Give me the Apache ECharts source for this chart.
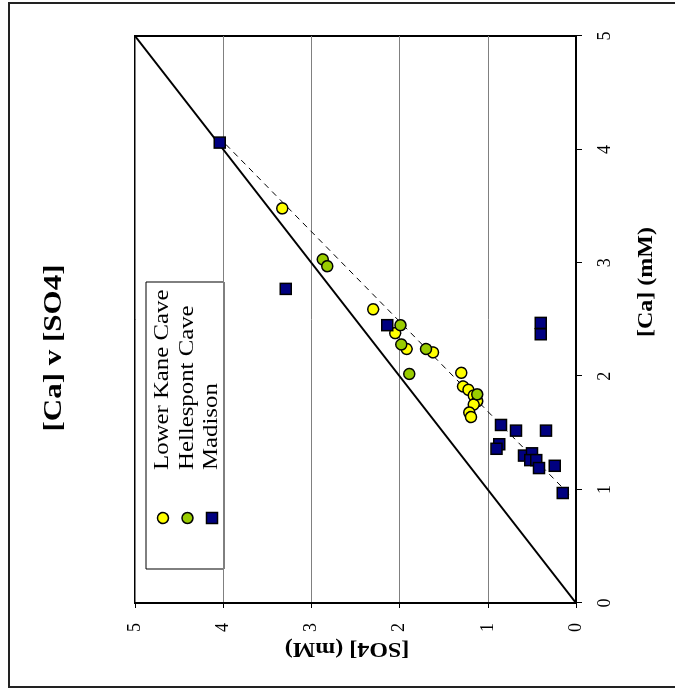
<!DOCTYPE html>
<html>
<head>
<meta charset="utf-8">
<title>[Ca] v [SO4]</title>
<script src="https://cdn.jsdelivr.net/npm/echarts@6/dist/echarts.min.js"></script>
<style>
  html, body { margin: 0; padding: 0; width: 675px; height: 692px; overflow: hidden; background: #fff; }
  /* The chart is laid out landscape and turned a quarter turn counter-clockwise onto the page */
  #chart {
    position: absolute; left: 0; top: 0;
    width: 692px; height: 675px;
    transform-origin: 0 0;
    transform: translateY(692px) rotate(-90deg);
  }
</style>
</head>
<body>
<div id="chart"></div>
<script>
// Axis ticks (mM) shared by both axes
const axisTicks = [0, 1, 2, 3, 4, 5];

// Samples as [Ca (mM), SO4 (mM)]
const lowerKane = [
  [3.48, 3.33], [2.59, 2.30], [2.38, 2.05], [2.24, 1.92], [2.21, 1.62],
  [2.03, 1.30], [1.91, 1.28], [1.88, 1.22], [1.83, 1.16], [1.78, 1.12],
  [1.75, 1.16], [1.68, 1.21], [1.64, 1.19]
];
const hellespont = [
  [3.03, 2.87], [2.97, 2.82], [2.45, 1.99], [2.28, 1.98], [2.24, 1.70],
  [2.02, 1.89], [1.84, 1.12]
];
const madison = [
  [4.06, 4.04], [2.77, 3.29], [2.45, 2.14], [1.57, 0.85], [1.52, 0.68],
  [1.52, 0.34], [1.40, 0.87], [1.36, 0.90], [1.30, 0.59], [1.32, 0.50],
  [1.26, 0.52], [1.26, 0.45], [1.19, 0.42], [1.21, 0.24], [0.97, 0.15],
  [2.47, 0.40], [2.37, 0.40]
];

// 1:1 reference line and the linear trend through the samples
const oneToOne = [[0, 0], [5, 5]];
const trendLine = [[0.96, 0.08], [4.06, 3.99]];

const seriesNames = ['Lower Kane Cave', 'Hellespont Cave', 'Madison'];
const seriesColors = ['#FFFF00', '#99CC00', '#000080'];
const seriesSymbols = ['circle', 'circle', 'rect'];

const serif = 'Liberation Serif';

const chart = echarts.init(document.getElementById('chart'), null, { renderer: 'canvas' });

const scatter = (name, data, i) => ({
  name: name,
  type: 'scatter',
  data: data,
  symbol: seriesSymbols[i],
  symbolSize: 11,
  itemStyle: { color: seriesColors[i], borderColor: '#000', borderWidth: 1.5, opacity: 1 },
  emphasis: { disabled: true },
  z: 5
});

// tick numbers in the same serif as the rest of the lettering
const tickLabel = {
  show: true,
  margin: 20,
  fontFamily: serif,
  fontSize: 18,
  fontWeight: 'normal',
  color: '#000'
};

// Legend rows built as graphics so the text can be widened like the rest of the lettering
const legendRows = seriesNames.map((name, i) => {
  const v = 163 + i * 24.5;
  const sym = seriesSymbols[i] === 'rect'
    ? { type: 'rect', shape: { x: 174 - 5.5, y: v - 5.5, width: 11, height: 11 },
        style: { fill: seriesColors[i], stroke: '#000', lineWidth: 1.5 } }
    : { type: 'circle', shape: { cx: 174, cy: v, r: 5.5 },
        style: { fill: seriesColors[i], stroke: '#000', lineWidth: 1.5 } };
  const txt = {
    type: 'text', x: 222, y: v, scaleX: 1.24,
    style: { text: name, font: '20px "' + serif + '"', fill: '#000',
             align: 'left', textAlign: 'left', verticalAlign: 'middle', textVerticalAlign: 'middle' }
  };
  return [sym, txt];
}).flat();

chart.setOption({
  animation: false,
  backgroundColor: '#fff',
  textStyle: { fontFamily: serif, color: '#000' },
  grid: {
    left: 89, right: 36, top: 135, bottom: 99,
    show: true, borderColor: '#000', borderWidth: 2, backgroundColor: 'transparent',
    outerBoundsMode: 'none'
  },
  xAxis: {
    type: 'value',
    min: axisTicks[0], max: axisTicks[axisTicks.length - 1], interval: 1,
    position: 'bottom',
    axisLine: { show: true, onZero: false, lineStyle: { color: '#000', width: 2 } },
    axisTick: { show: true, inside: false, length: 6, lineStyle: { color: '#000', width: 1 } },
    axisLabel: tickLabel,
    splitLine: { show: false }
  },
  yAxis: {
    type: 'value',
    min: axisTicks[0], max: axisTicks[axisTicks.length - 1], interval: 1,
    position: 'left',
    axisLine: { show: true, onZero: false, lineStyle: { color: '#000', width: 2 } },
    axisTick: { show: true, inside: false, length: 5, lineStyle: { color: '#000', width: 1 } },
    axisLabel: tickLabel,
    splitLine: { show: true, lineStyle: { color: '#808080', width: 1 } }
  },
  series: [
    {
      name: '1:1', type: 'line', data: oneToOne, symbol: 'none', silent: true,
      lineStyle: { color: '#000', width: 2 }, z: 2
    },
    {
      name: 'trend', type: 'line', data: trendLine, symbol: 'none', silent: true,
      lineStyle: { color: '#000', width: 1, type: [6, 5] }, z: 2
    },
    scatter(seriesNames[0], lowerKane, 0),
    scatter(seriesNames[1], hellespont, 1),
    scatter(seriesNames[2], madison, 2)
  ],
  graphic: [
    // outer frame
    { type: 'rect', z: 50, silent: true,
      shape: { x: 5, y: 9, width: 684, height: 700 },
      style: { fill: 'none', stroke: '#222', lineWidth: 2 } },
    // title
    { type: 'text', z: 50, x: 344, y: 55, scaleX: 1.24,
      style: { text: '[Ca] v [SO4]', font: 'bold 25px "' + serif + '"', fill: '#000',
               align: 'center', textAlign: 'center', verticalAlign: 'middle', textVerticalAlign: 'middle' } },
    // axis titles
    { type: 'text', z: 50, x: 410, y: 647, scaleX: 1.2,
      style: { text: '[Ca] (mM)', font: 'bold 20px "' + serif + '"', fill: '#000',
               align: 'center', textAlign: 'center', verticalAlign: 'middle', textVerticalAlign: 'middle' } },
    { type: 'text', z: 50, x: 44, y: 347, scaleX: 1.2, rotation: Math.PI / 2,
      style: { text: '[SO4] (mM)', font: 'bold 20px "' + serif + '"', fill: '#000',
               align: 'center', textAlign: 'center', verticalAlign: 'middle', textVerticalAlign: 'middle' } },
    // legend
    { type: 'group', z: 60, children: [
      { type: 'rect', shape: { x: 123, y: 146, width: 287, height: 78 },
        style: { fill: '#fff', stroke: '#000', lineWidth: 1 } }
    ].concat(legendRows) }
  ]
});
</script>
</body>
</html>
